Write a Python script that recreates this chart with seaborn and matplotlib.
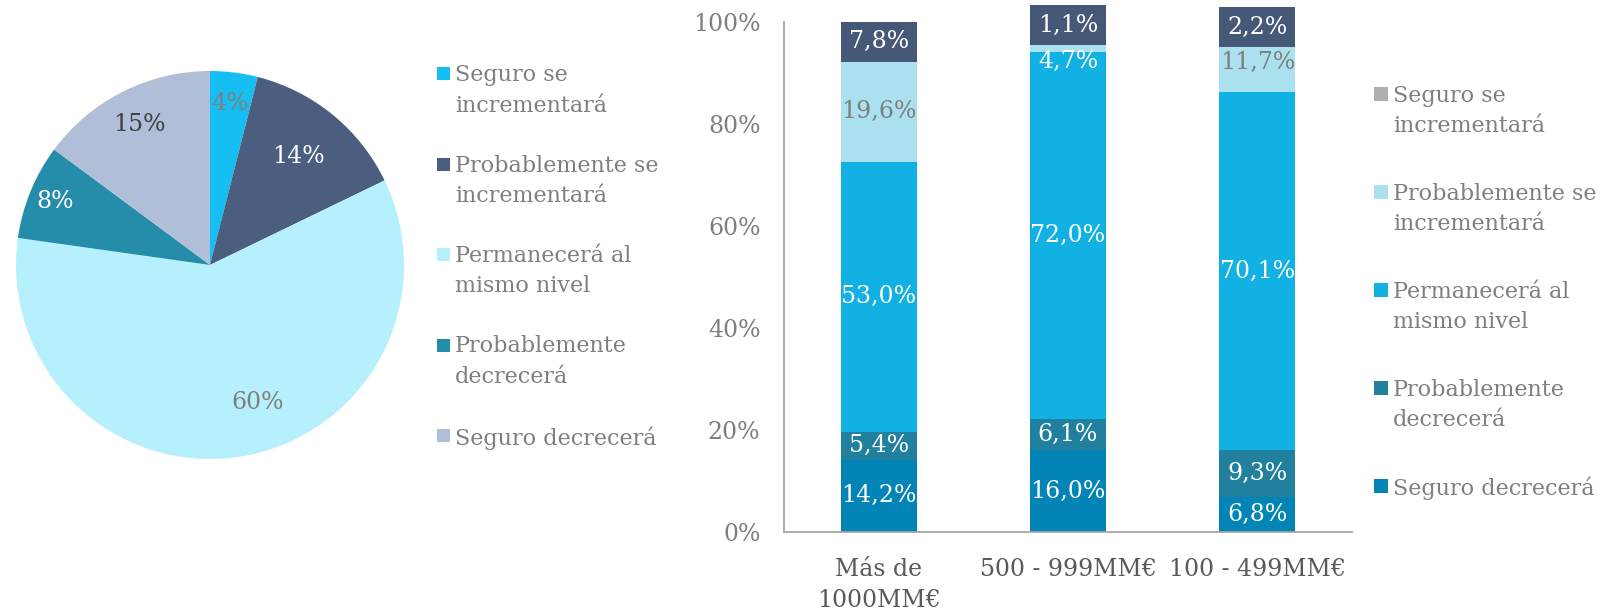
import matplotlib
matplotlib.use('Agg')
import numpy as np
import pandas as pd
import matplotlib.pyplot as plt
import seaborn as sns
from matplotlib.patches import Rectangle

# =====================================================
#  DATOS
# =====================================================
respuestas = ["Seguro se\nincrementará", "Probablemente se\nincrementará",
              "Permanecerá al\nmismo nivel", "Probablemente\ndecrecerá",
              "Seguro decrecerá"]

# tarta (total)
pie_valores = [4, 14, 60, 8, 15]

# barras por tramo de facturación
tramos = ["Más de\n1000MM€", "500 - 999MM€", "100 - 499MM€"]
seguro_inc = [7.8, 1.1, 2.2]
prob_inc = [19.6, 4.7, 11.7]
permanece = [53.0, 72.0, 70.1]
prob_dec = [5.4, 6.1, 9.3]
seguro_dec = [14.2, 16.0, 6.8]

# =====================================================
#  ESTILO
# =====================================================
pie_colores = ["#17BEF2", "#4B5E80", "#B7F0FD", "#258CA9", "#B1BED7"]
pie_txt_col = ["#7F7F7F", "white", "#7F7F7F", "white", "#404040"]
pie_dist = [0.84, 0.72, 0.75, 0.86, 0.81]
pie_giro = [0, 0, 10, 0, 0]  # grados, etiquetas movidas en el original

bar_colores = ["#AFAFAF", "#ABE1EE", "#12B1E3", "#20809E", "#0285B6"]  # mismo orden que respuestas
NAVY = "#465878"
GRIS = "#7F7F7F"
FS_TXT = 16
FS_NUM = 17

sns.set_theme(style="white")
plt.rcParams['font.family'] = ['DejaVu Serif']

W, H = 1624, 614
fig = plt.figure(figsize=(W / 100, H / 100), dpi=100)

# =====================================================
#  TARTA
# =====================================================
ax1 = fig.add_axes([16 / W, 1 - 459 / H, 388 / W, 388 / H])
wedges, _ = ax1.pie(pie_valores, colors=pie_colores, startangle=90,
                    counterclock=False, wedgeprops=dict(linewidth=0))
ax1.set_xlim(-1, 1)
ax1.set_ylim(-1, 1)
ax1.set_aspect('equal')
for w, v, c, d, g in zip(wedges, pie_valores, pie_txt_col, pie_dist, pie_giro):
    ang = np.deg2rad((w.theta1 + w.theta2) / 2 + g)
    ax1.text(d * np.cos(ang), d * np.sin(ang), f"{v}%", ha='center', va='center',
             color=c, fontsize=FS_NUM)

# =====================================================
#  BARRAS APILADAS
# =====================================================
ax2 = fig.add_axes([784 / W, 1 - 532 / H, 568 / W, 510 / H])

# de abajo a arriba
orden = [4, 3, 2, 1, 0]
series = [seguro_inc, prob_inc, permanece, prob_dec, seguro_dec]
df = pd.DataFrame({respuestas[k]: series[k] for k in orden}, index=tramos)
acum = df.cumsum(axis=1)
base = acum - df
centro = base + df / 2

for k in reversed(orden):
    col = respuestas[k]
    sns.barplot(x=list(df.index), y=acum[col].values, color=bar_colores[k],
                saturation=1, width=0.4, errorbar=None, linewidth=0, ax=ax2)

# recuadro oscuro de la etiqueta superior
ALTO_CAJA = 7.8
top = respuestas[0]
ax2.bar(range(len(tramos)), ALTO_CAJA, bottom=centro[top].values - ALTO_CAJA / 2,
        width=0.4, color=NAVY, linewidth=0, clip_on=False)

# etiquetas
desplaz = {(1, 1): -4.2}  # etiqueta movida a mano en el original
for i in range(len(tramos)):
    for k in orden:
        col = respuestas[k]
        v = df[col].iloc[i]
        y = centro[col].iloc[i] + desplaz.get((i, k), 0)
        txt = f"{v:.1f}%".replace(".", ",")
        c = GRIS if (k == 1 and (i, k) not in desplaz) else 'white'
        ax2.text(i, y, txt, ha='center', va='center', color=c, fontsize=FS_NUM,
                 clip_on=False)

ax2.set_xlim(-0.5, 2.5)
ax2.set_ylim(0, 100)
ax2.set_yticks(range(0, 101, 20))
ax2.set_yticklabels([f"{t}%" for t in range(0, 101, 20)])
ax2.set_xlabel("")
ax2.set_ylabel("")
ax2.tick_params(axis='y', length=0, pad=17, labelsize=FS_NUM, labelcolor=GRIS)
ax2.tick_params(axis='x', length=0, pad=19, labelsize=17, labelcolor="#595959")
for lab in ax2.get_xticklabels():
    lab.set_linespacing(1.45)
for s in ["top", "right"]:
    ax2.spines[s].set_visible(False)
for s in ["left", "bottom"]:
    ax2.spines[s].set_color("#A6A6A6")
    ax2.spines[s].set_linewidth(1.3)
ax2.set_facecolor("none")


# =====================================================
#  LEYENDAS
# =====================================================
def leyenda(x_cuadro, x_texto, y_base, paso, colores, lado):
    for k, (txt, col) in enumerate(zip(respuestas, colores)):
        yb = y_base + k * paso  # línea base de la primera línea (px desde arriba)
        fig.patches.append(Rectangle((x_cuadro / W, 1 - (yb - 1) / H), lado / W, lado / H,
                                     transform=fig.transFigure, fc=col, ec='none'))
        fig.text(x_texto / W, 1 - (yb - 17) / H, txt, ha='left', va='top', color=GRIS,
                 fontsize=FS_TXT, linespacing=1.5)


leyenda(437, 455, 81, 90.5, pie_colores, 13)
leyenda(1374, 1393, 102, 98, bar_colores, 14)

fig.savefig("out.png", dpi=100)
